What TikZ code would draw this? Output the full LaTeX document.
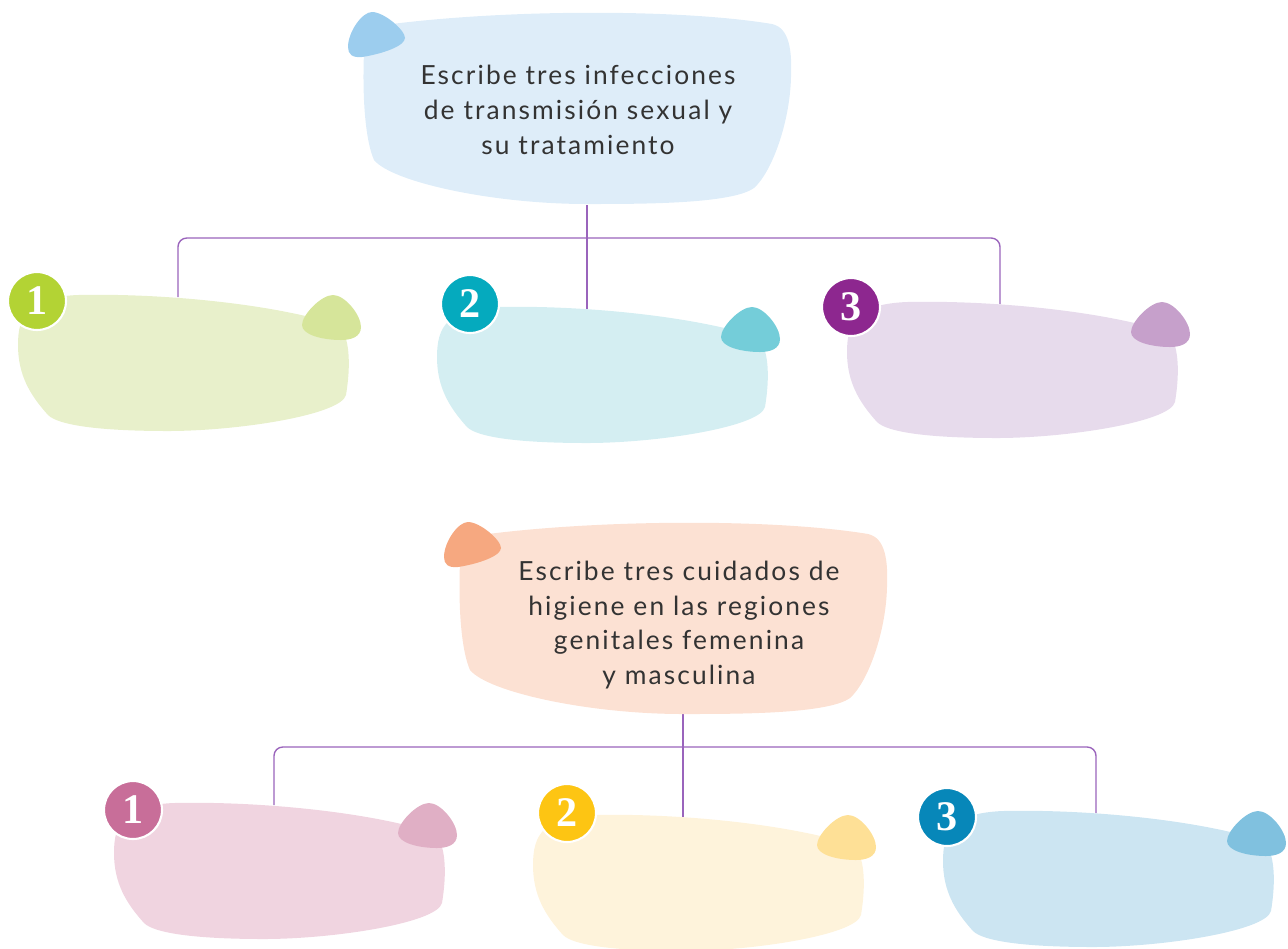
\documentclass[tikz,border=0pt]{standalone}
\usepackage{fontspec}
\usepackage{xcolor}
\usepackage{tikz}
\newfontfamily\hand[LetterSpace=8]{Lato}
\newfontfamily\numfont{Liberation Serif}

\definecolor{linkpurple}{HTML}{9A64BC}
\definecolor{inkgray}{HTML}{333333}
\definecolor{skybg}{HTML}{DEEDF9}  \definecolor{skytip}{HTML}{9CCDEE}
\definecolor{peachbg}{HTML}{FCE1D3}\definecolor{peachtip}{HTML}{F6A880}
\definecolor{limebg}{HTML}{E8F0CB} \definecolor{limetip}{HTML}{D6E59A} \definecolor{lime}{HTML}{B3D334}
\definecolor{tealbg}{HTML}{D4EEF2} \definecolor{tealtip}{HTML}{74CDD9} \definecolor{teal}{HTML}{05AABE}
\definecolor{plumbg}{HTML}{E7DBEC} \definecolor{plumtip}{HTML}{C6A0CB} \definecolor{plum}{HTML}{8D278F}
\definecolor{rosebg}{HTML}{F0D4E0} \definecolor{rosetip}{HTML}{E0AFC5} \definecolor{rose}{HTML}{C86E99}
\definecolor{sandbg}{HTML}{FEF3DB} \definecolor{sandtip}{HTML}{FEE096} \definecolor{sand}{HTML}{FDC513}
\definecolor{seabg}{HTML}{CCE5F2}  \definecolor{seatip}{HTML}{80C1DF} \definecolor{sea}{HTML}{0787B9}

\tikzset{
  bigblob/.pic={
    \fill[#1bg] (2,40) .. controls (3,20) and (10,15) .. (30,12)
      .. controls (150,-3) and (320,-3) .. (410,12)
      .. controls (428,16) and (430,40) .. (429,65)
      .. controls (428,110) and (410,160) .. (392,176)
      .. controls (370,192) and (280,192) .. (225,192)
      .. controls (130,192) and (30,170) .. (12,148)
      .. controls (4,130) and (0,90) .. (2,40) -- cycle;
    \fill[#1tip] (10,0) .. controls (22,0) and (43,18) .. (43,26)
      .. controls (43,34) and (20,42) .. (0,45)
      .. controls (-10,46) and (-14,42) .. (-14,35)
      .. controls (-14,20) and (0,0) .. (10,0) -- cycle;
  },
  blob/.pic={
    \fill[#1bg] (0,50) .. controls (0,20) and (10,2) .. (60,0)
      .. controls (150,-2) and (260,10) .. (320,30)
      .. controls (332,40) and (333,70) .. (328,100)
      .. controls (323,120) and (220,136) .. (150,136)
      .. controls (80,136) and (40,130) .. (30,120)
      .. controls (12,100) and (0,80) .. (0,50) -- cycle;
    \fill[#1tip] (315,0) .. controls (327,0) and (343,20) .. (343,32)
      .. controls (343,42) and (333,45) .. (323,45)
      .. controls (305,45) and (284,40) .. (284,30)
      .. controls (284,20) and (303,0) .. (315,0) -- cycle;
  }
}

\begin{document}
\begin{tikzpicture}[x=0.02cm,y=-0.02cm,
  conn/.style={draw=linkpurple, line width=0.8pt, rounded corners=5pt},
  badge/.style={circle, draw=white, line width=1.2pt, minimum size=1.16cm, inner sep=0pt,
    text=white, font=\numfont\bfseries\fontsize{24}{24}\selectfont},
  ask/.style={align=center, text=inkgray, font=\hand\fontsize{15}{19.8}\selectfont}]

\useasboundingbox (0,0) rectangle (1288,948);

% where the links meet the boxes
\coordinate (q1) at (587,205);
\coordinate (bar1) at (587,238);
\coordinate (a1) at (178,297);
\coordinate (a2) at (587,309);
\coordinate (a3) at (1000,304);
\coordinate (q2) at (683,713);
\coordinate (bar2) at (683,747);
\coordinate (b1) at (274,805);
\coordinate (b2) at (683,817);
\coordinate (b3) at (1096,813);

\draw[conn] (q1) -- (a2);
\draw[conn] (a1) |- (bar1) -| (a3);
\draw[conn] (q2) -- (b2);
\draw[conn] (b1) |- (bar2) -| (b3);

% first block
\pic at (362,12) {bigblob=sky};
\node[ask] (ptop) at (578,110) {Escribe tres infecciones\\de transmisión sexual y\\su tratamiento};

\pic at (18,295) {blob=lime};
\pic at (437,307) {blob=teal};
\pic at (847,302) {blob=plum};
\node[badge, fill=lime] (n11) at (37,301) {1};
\node[badge, fill=teal] (n12) at (470,304) {2};
\node[badge, fill=plum] (n13) at (851,307) {3};

% second block
\pic at (458,522) {bigblob=peach};
\node[ask] (pbot) at (679,625) {Escribe tres cuidados de\\higiene en las regiones\\genitales femenina\\y masculina};

\pic at (114,803) {blob=rose};
\pic at (533,815) {blob=sand};
\pic at (943,811) {blob=sea};
\node[badge, fill=rose] (n21) at (133,810) {1};
\node[badge, fill=sand] (n22) at (567,813) {2};
\node[badge, fill=sea] (n23) at (947,817) {3};

\end{tikzpicture}
\end{document}
